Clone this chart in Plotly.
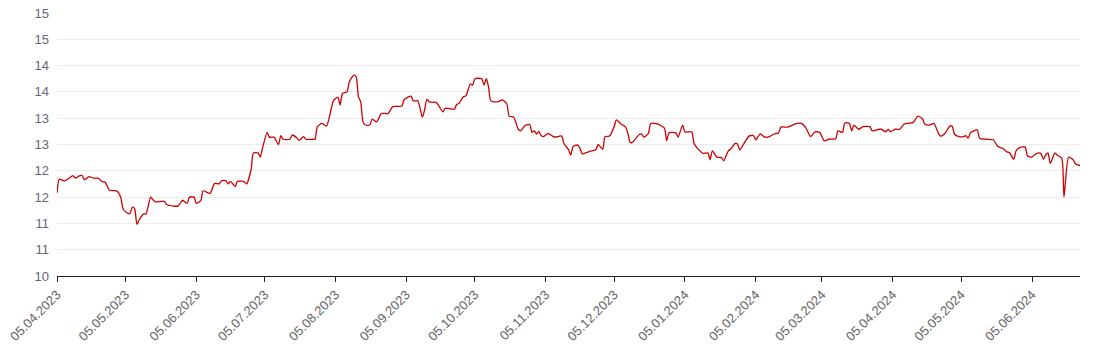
import pandas as pd
import plotly.graph_objects as go

start_date = "2023-04-05"
end_date = "2024-06-26"

# day offsets from start_date and closing values
day_offsets = [
    0, 1, 3, 4, 7, 8, 10, 11, 12, 14, 16, 18, 20, 21, 23, 26, 27, 28, 29, 31,
    32, 33, 34, 35, 36, 38, 39, 41, 42, 43, 47, 48, 51, 53, 55, 57, 58, 60, 61, 63,
    64, 67, 69, 71, 72, 74, 75, 76, 78, 79, 82, 83, 85, 86, 88, 89, 90, 92, 93, 95,
    97, 98, 99, 102, 103, 105, 106, 108, 109, 112, 113, 114, 116, 118, 120, 121, 123, 124, 125, 127,
    128, 130, 131, 132, 133, 134, 135, 137, 138, 140, 142, 145, 147, 151, 152, 155, 156, 158, 160, 161,
    162, 163, 166, 167, 169, 170, 174, 175, 176, 178, 179, 181, 182, 183, 186, 187, 188, 189, 190, 193,
    195, 197, 198, 200, 202, 203, 205, 207, 208, 209, 210, 211, 212, 213, 215, 217, 218, 221, 222, 224,
    225, 226, 228, 229, 230, 232, 234, 236, 237, 239, 240, 242, 244, 245, 247, 249, 250, 251, 252, 255,
    256, 257, 259, 260, 263, 266, 267, 268, 271, 272, 274, 275, 278, 279, 282, 283, 285, 286, 287, 289,
    291, 292, 294, 295, 297, 298, 299, 301, 303, 305, 306, 308, 310, 312, 314, 316, 317, 320, 324, 326,
    328, 330, 332, 334, 336, 338, 341, 342, 344, 345, 347, 348, 349, 351, 353, 356, 357, 360, 361, 363,
    364, 365, 367, 369, 371, 372, 375, 377, 379, 380, 382, 384, 386, 387, 389, 391, 392, 393, 395, 397,
    398, 399, 400, 401, 403, 404, 407, 410, 412, 414, 416, 417, 419, 420, 422, 424, 425, 427, 428, 430,
    431, 432, 433, 434, 435, 437, 438, 440, 441, 443, 445, 446, 448,
]

values = [
    11.58, 11.84, 11.81, 11.82, 11.91, 11.86, 11.91, 11.91, 11.83, 11.89, 11.86, 11.86, 11.79, 11.79, 11.63, 11.62, 11.58, 11.48, 11.27, 11.19,
    11.19, 11.31, 11.28, 10.98, 11.07, 11.18, 11.18, 11.50, 11.45, 11.41, 11.42, 11.36, 11.33, 11.33, 11.44, 11.38, 11.50, 11.50, 11.38, 11.44,
    11.62, 11.57, 11.76, 11.75, 11.81, 11.81, 11.75, 11.80, 11.70, 11.80, 11.79, 11.75, 12.02, 12.34, 12.34, 12.26, 12.43, 12.73, 12.64, 12.64,
    12.50, 12.67, 12.60, 12.60, 12.68, 12.63, 12.58, 12.65, 12.60, 12.60, 12.60, 12.84, 12.90, 12.85, 13.16, 13.33, 13.40, 13.25, 13.47, 13.50,
    13.69, 13.82, 13.79, 13.41, 13.31, 12.93, 12.87, 12.87, 12.98, 12.93, 13.09, 13.09, 13.22, 13.23, 13.35, 13.42, 13.33, 13.33, 13.02, 13.16,
    13.36, 13.31, 13.30, 13.25, 13.12, 13.19, 13.17, 13.26, 13.28, 13.41, 13.42, 13.65, 13.63, 13.75, 13.75, 13.63, 13.75, 13.59, 13.33, 13.31,
    13.35, 13.27, 13.04, 13.02, 12.79, 12.76, 12.86, 12.88, 12.73, 12.76, 12.70, 12.75, 12.67, 12.65, 12.71, 12.66, 12.64, 12.66, 12.52, 12.40,
    12.30, 12.46, 12.49, 12.43, 12.32, 12.35, 12.38, 12.40, 12.50, 12.41, 12.65, 12.66, 12.84, 12.97, 12.89, 12.83, 12.71, 12.54, 12.54, 12.69,
    12.70, 12.64, 12.71, 12.90, 12.89, 12.81, 12.57, 12.72, 12.72, 12.64, 12.87, 12.74, 12.74, 12.52, 12.36, 12.33, 12.34, 12.21, 12.38, 12.26,
    12.25, 12.19, 12.38, 12.41, 12.52, 12.51, 12.40, 12.53, 12.66, 12.67, 12.59, 12.70, 12.64, 12.65, 12.70, 12.72, 12.83, 12.83, 12.90, 12.90,
    12.81, 12.65, 12.74, 12.73, 12.57, 12.60, 12.61, 12.76, 12.73, 12.91, 12.90, 12.76, 12.87, 12.79, 12.84, 12.84, 12.76, 12.79, 12.79, 12.74,
    12.79, 12.74, 12.79, 12.79, 12.89, 12.90, 12.92, 13.04, 12.99, 12.89, 12.87, 12.90, 12.71, 12.66, 12.72, 12.85, 12.85, 12.70, 12.65, 12.65,
    12.67, 12.62, 12.72, 12.75, 12.78, 12.62, 12.60, 12.59, 12.46, 12.43, 12.36, 12.35, 12.22, 12.38, 12.45, 12.45, 12.28, 12.26, 12.30, 12.34,
    12.32, 12.22, 12.30, 12.34, 12.14, 12.34, 12.30, 12.24, 11.50, 12.26, 12.21, 12.13, 12.10,
]

x_tick_dates = [
    "2023-04-05", "2023-05-05", "2023-06-05", "2023-07-05", "2023-08-05",
    "2023-09-05", "2023-10-05", "2023-11-05", "2023-12-05", "2024-01-05",
    "2024-02-05", "2024-03-05", "2024-04-05", "2024-05-05", "2024-06-05",
]
y_tick_values = [10, 10.5, 11, 11.5, 12, 12.5, 13, 13.5, 14, 14.5, 15]
y_tick_labels = ["10", "11", "11", "12", "12", "13", "13", "14", "14", "15", "15"]

dates = pd.to_datetime(start_date) + pd.to_timedelta(day_offsets, unit="D")

fig = go.Figure()
fig.add_trace(go.Scatter(
    x=dates, y=values, mode="lines",
    line=dict(color="#cc0000", width=1.3, shape="spline", smoothing=0.6),
    hoverinfo="skip", showlegend=False,
))

font_family = "Liberation Sans, Arial, sans-serif"
fig.update_layout(
    width=1094, height=350,
    margin=dict(l=57, r=14, t=13, b=74, autoexpand=False),
    paper_bgcolor="white", plot_bgcolor="white",
    font=dict(family=font_family, size=13, color="#666666"),
)
fig.update_xaxes(
    range=[start_date, end_date], automargin=False,
    tickvals=x_tick_dates, tickformat="%d.%m.%Y", tickangle=-45,
    tickfont=dict(size=13, color="#666666"),
    showgrid=False, zeroline=False,
    showline=True, linecolor="#222222", linewidth=1,
    ticks="outside", ticklen=5, tickcolor="#222222",
)
fig.update_yaxes(
    range=[10, 15], automargin=False,
    tickvals=y_tick_values, ticktext=y_tick_labels,
    tickfont=dict(size=13, color="#666677"),
    showgrid=True, gridcolor="#ececec", gridwidth=1,
    zeroline=False, showline=False, ticks="", ticklabelstandoff=7,
)

fig.write_html("out.html", config={"displayModeBar": False})
